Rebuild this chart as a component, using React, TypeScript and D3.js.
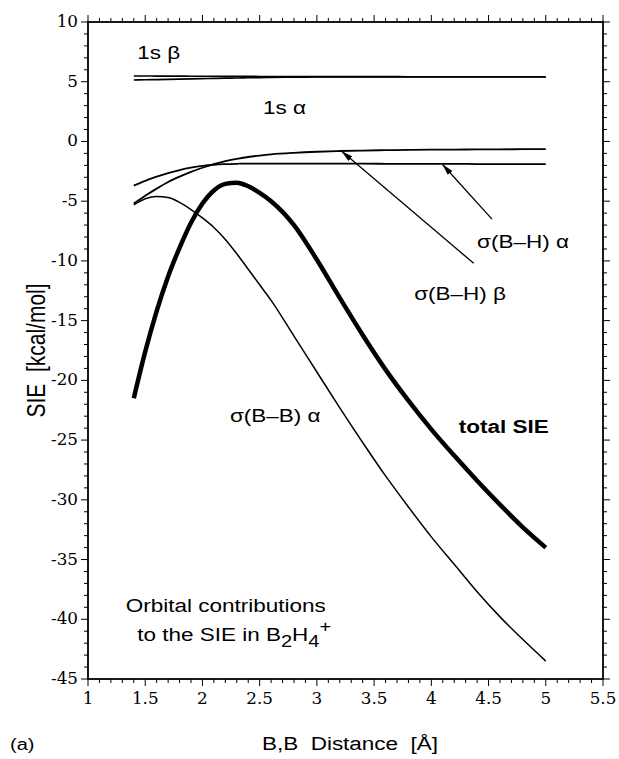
import * as d3 from "d3";
import type { ReactNode } from "react";

const W = 619;
const H = 759;
const M = { left: 88, right: 16, top: 22, bottom: 80 };
// the original figure is stretched horizontally, text included
const STRETCH = 1.25;

// B,B distance samples (Å)
const DIST = [1.4, 1.5, 1.6, 1.7, 1.8, 1.9, 2.0, 2.1, 2.2, 2.3, 2.4, 2.5, 2.6, 2.8, 3.0, 3.2, 3.4, 3.6, 3.8, 4.0, 4.2, 4.4, 4.6, 4.8, 5.0];

// SIE contributions (kcal/mol)
const TOTAL = [-21.5, -17.6, -14.2, -11.3, -8.9, -6.8, -5.2, -4.1, -3.55, -3.45, -3.75, -4.3, -5.0, -7.0, -9.9, -13.1, -16.2, -19.1, -21.7, -24.1, -26.3, -28.4, -30.4, -32.3, -34.0];
const SIGMA_BB_A = [-5.3, -4.8, -4.6, -4.7, -5.1, -5.7, -6.4, -7.2, -8.2, -9.4, -10.7, -12.0, -13.3, -16.3, -19.3, -22.3, -25.2, -28.0, -30.6, -33.1, -35.4, -37.7, -39.8, -41.7, -43.5];
const SIGMA_BH_B = [-5.2, -4.55, -3.95, -3.4, -2.95, -2.55, -2.2, -1.9, -1.65, -1.45, -1.3, -1.18, -1.08, -0.95, -0.86, -0.8, -0.76, -0.73, -0.71, -0.69, -0.68, -0.67, -0.66, -0.65, -0.65];
const SIGMA_BH_A = [-3.7, -3.3, -2.95, -2.65, -2.4, -2.2, -2.05, -1.95, -1.9, -1.87, -1.85, -1.85, -1.85, -1.85, -1.85, -1.86, -1.86, -1.87, -1.87, -1.88, -1.88, -1.89, -1.89, -1.9, -1.9];
const CORE_A = [5.15, 5.16, 5.18, 5.2, 5.22, 5.24, 5.26, 5.28, 5.3, 5.31, 5.33, 5.34, 5.36, 5.38, 5.39, 5.4, 5.4, 5.4, 5.4, 5.4, 5.4, 5.4, 5.4, 5.4, 5.4];
const CORE_B = [5.48, 5.48, 5.47, 5.47, 5.47, 5.46, 5.46, 5.46, 5.45, 5.45, 5.45, 5.44, 5.44, 5.44, 5.43, 5.43, 5.43, 5.43, 5.42, 5.42, 5.42, 5.42, 5.42, 5.42, 5.42];

const X_TICKS = [1, 1.5, 2, 2.5, 3, 3.5, 4, 4.5, 5, 5.5];
const Y_TICKS = [10, 5, 0, -5, -10, -15, -20, -25, -30, -35, -40, -45];

const SANS = "'Liberation Sans', Arial, Helvetica, sans-serif";
const SERIF = "'DejaVu Serif', 'Liberation Serif', serif";

function Txt({ x, y, anchor = "start", font = SANS, size = 18, bold = false, sx = STRETCH, children }: {
  x: number; y: number; anchor?: string; font?: string; size?: number; bold?: boolean; sx?: number; children: ReactNode;
}) {
  return (
    <text transform={`translate(${x},${y}) scale(${sx},1)`} textAnchor={anchor}
      style={{ whiteSpace: "pre", fontFamily: font, fontSize: size, fontWeight: bold ? "bold" : "normal" }}>
      {children}
    </text>
  );
}

export default function App() {
  const x = d3.scaleLinear().domain([1, 5.5]).range([M.left, W - M.right]);
  const y = d3.scaleLinear().domain([-45, 10]).range([H - M.bottom, M.top]);

  const line = (vals: number[]) =>
    d3.line<number>()
      .x((_, i) => x(DIST[i]))
      .y(d => y(d))
      .curve(d3.curveMonotoneX)(vals) ?? "";

  const [x0, x1] = x.range();
  const [y0, y1] = y.range();

  const xMinor = d3.range(10, 56).map(v => v / 10);
  const yMinor = d3.range(-45, 11);

  // arrows: tail -> head, in data units
  const arrows: [number, number, number, number][] = [
    [4.53, -6.5, 4.1, -1.95],
    [4.37, -10.2, 3.22, -0.85],
  ];

  const midY = (y0 + y1) / 2;

  return (
    <svg width={W} height={H} style={{ position: "absolute", left: 0, top: 0, background: "#fff" }}>
      <defs>
        <marker id="head" viewBox="0 0 12 8" refX="11" refY="4" markerWidth="12" markerHeight="8" orient="auto" markerUnits="userSpaceOnUse">
          <path d="M0,1 L12,4 L0,7 z" fill="#000" />
        </marker>
      </defs>

      {/* frame */}
      <rect x={x0} y={y1} width={x1 - x0} height={y0 - y1} fill="none" stroke="#000" strokeWidth={1.8} />

      {/* ticks, all pointing outward */}
      {xMinor.map(v => {
        const major = X_TICKS.some(t => Math.abs(t - v) < 1e-6);
        const len = major ? 7 : 4;
        return (
          <g key={"xt" + v}>
            <line x1={x(v)} x2={x(v)} y1={y0} y2={y0 + len} stroke="#000" strokeWidth={1} />
            <line x1={x(v)} x2={x(v)} y1={y1} y2={y1 - len} stroke="#000" strokeWidth={1} />
          </g>
        );
      })}
      {yMinor.map(v => {
        const major = v % 5 === 0;
        const len = major ? 7 : 4;
        return (
          <g key={"yt" + v}>
            <line x1={x0} x2={x0 - len} y1={y(v)} y2={y(v)} stroke="#000" strokeWidth={1} />
            <line x1={x1} x2={x1 + len} y1={y(v)} y2={y(v)} stroke="#000" strokeWidth={1} />
          </g>
        );
      })}

      {X_TICKS.map(t => (
        <Txt key={"xl" + t} x={x(t)} y={y0 + 25} anchor="middle" font={SERIF} size={16} sx={1.05}>{String(t)}</Txt>
      ))}
      {Y_TICKS.map(t => (
        <Txt key={"yl" + t} x={x0 - 10} y={y(t) + 5} anchor="end" font={SERIF} size={16} sx={1.05}>{String(t)}</Txt>
      ))}

      {/* curves */}
      <path d={line(CORE_B)} fill="none" stroke="#000" strokeWidth={1.6} />
      <path d={line(CORE_A)} fill="none" stroke="#000" strokeWidth={1.6} />
      <path d={line(SIGMA_BH_A)} fill="none" stroke="#000" strokeWidth={1.8} />
      <path d={line(SIGMA_BH_B)} fill="none" stroke="#000" strokeWidth={1.8} />
      <path d={line(SIGMA_BB_A)} fill="none" stroke="#000" strokeWidth={1.5} />
      <path d={line(TOTAL)} fill="none" stroke="#000" strokeWidth={4.5} />

      {arrows.map(([ax, ay, bx, by], i) => (
        <line key={"ar" + i} x1={x(ax)} y1={y(ay)} x2={x(bx)} y2={y(by)} stroke="#000" strokeWidth={1.3} markerEnd="url(#head)" />
      ))}

      {/* labels */}
      <Txt x={x(1.43)} y={y(6.9)}>1s β</Txt>
      <Txt x={x(2.53)} y={y(2.3)}>1s α</Txt>
      <Txt x={x(4.4)} y={y(-8.9)}>σ(B–H) α</Txt>
      <Txt x={x(3.85)} y={y(-13.3)}>σ(B–H) β</Txt>
      <Txt x={x(2.24)} y={y(-23.5)}>σ(B–B) α</Txt>
      <Txt x={x(4.24)} y={y(-24.4)} bold>total SIE</Txt>
      <Txt x={x(1.33)} y={y(-39.4)}>Orbital contributions</Txt>
      <Txt x={x(1.43)} y={y(-41.8)}>
        to the SIE in B<tspan dy={6} fontSize={16}>2</tspan><tspan dy={-6}>H</tspan><tspan dy={6} fontSize={16}>4</tspan><tspan dy={-15} fontSize={16}>+</tspan>
      </Txt>

      <text transform={`translate(45,${midY}) scale(${STRETCH},1) rotate(-90)`} textAnchor="middle"
        style={{ whiteSpace: "pre", fontFamily: SANS, fontSize: 21 }}>
        SIE  [kcal/mol]
      </text>
      <Txt x={350} y={750} anchor="middle">B,B  Distance  [Å]</Txt>
      <Txt x={10} y={750} size={16}>(a)</Txt>
    </svg>
  );
}
